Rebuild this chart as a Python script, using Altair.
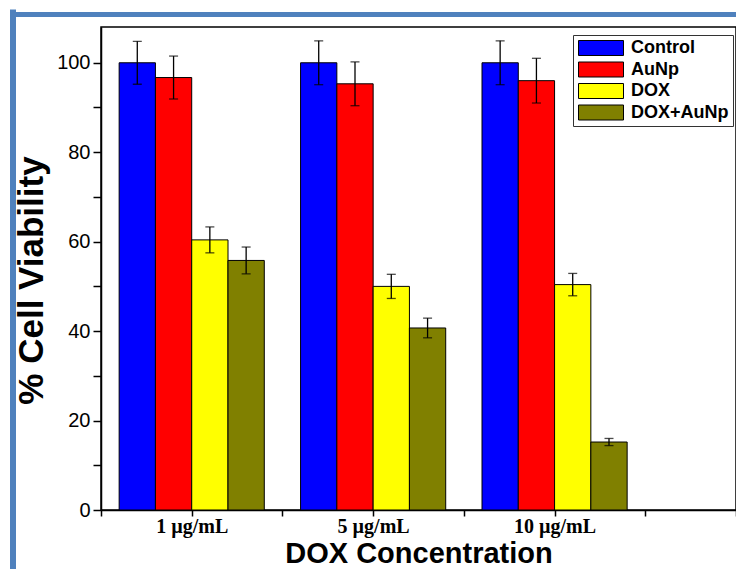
import altair as alt
import pandas as pd

# ---- data ----
concentrations = ["1 µg/mL", "5 µg/mL", "10 µg/mL"]
treatments = ["Control", "AuNp", "DOX", "DOX+AuNp"]
colors = ["#0000FF", "#FF0000", "#FFFF00", "#808000"]

control = [100.0, 100.0, 100.0]
control_err = [4.8, 4.9, 4.9]
aunp = [96.7, 95.3, 96.0]
aunp_err = [4.8, 4.9, 5.0]
dox = [60.4, 50.0, 50.4]
dox_err = [2.9, 2.7, 2.5]
dox_aunp = [55.8, 40.7, 15.2]
dox_aunp_err = [3.0, 2.2, 0.8]

values = [control, aunp, dox, dox_aunp]
errors = [control_err, aunp_err, dox_err, dox_aunp_err]

# ---- layout on a continuous x axis (groups at 1, 3, 5) ----
BAR_W = 0.4
rows = []
for gi, conc in enumerate(concentrations):
    center = 1 + 2 * gi
    for ti, t in enumerate(treatments):
        xc = center + (ti - 1.5) * BAR_W
        v = values[ti][gi]
        e = errors[ti][gi]
        rows.append({
            "conc": conc, "treatment": t, "value": v,
            "x0": xc - BAR_W / 2, "x1": xc + BAR_W / 2, "xc": xc,
            "lo": v - e, "hi": v + e,
        })
df = pd.DataFrame(rows)

label_expr = " : ".join(
    [f"datum.value == {1 + 2 * i} ? '{c}'" for i, c in enumerate(concentrations)]
) + " : ''"

W, H = 635, 483
PAD = {"left": 93, "top": 19, "right": 0, "bottom": 59}

xscale = alt.Scale(domain=[0, 7], nice=False)
yscale = alt.Scale(domain=[0, 108], nice=False)

x_axis = alt.Axis(
    values=list(range(0, 8)), labelExpr=label_expr, title="DOX Concentration",
    labelFont="Liberation Serif", labelFontWeight="bold", labelFontSize=20,
    labelColor="black", labelPadding=0, labelFlush=False, labelOverlap=False,
    titleFont="Liberation Sans", titleFontWeight="bold", titleFontSize=29,
    titleColor="black", titleBaseline="alphabetic", titleY=52, grid=False,
    tickSize=6,
)
y_axis = alt.Axis(
    values=list(range(0, 101, 10)),
    labelExpr="datum.value % 20 == 0 ? datum.value : ''",
    title="% Cell Viability",
    labelFont="Liberation Sans", labelFontSize=20, labelColor="black",
    labelPadding=3, labelFlush=False, labelOverlap=False,
    titleFont="Liberation Sans", titleFontWeight="bold", titleFontSize=35,
    titleColor="black", titlePadding=7, titleY=253, grid=False,
    tickSize=8,
)

base = alt.Chart(df)

bars = base.mark_bar(stroke="black", strokeWidth=1).encode(
    x=alt.X("x0:Q", scale=xscale, axis=x_axis),
    x2="x1:Q",
    y=alt.Y("value:Q", scale=yscale, axis=y_axis),
    y2=alt.datum(0),
    color=alt.Color(
        "treatment:N",
        scale=alt.Scale(domain=treatments, range=colors),
        legend=alt.Legend(
            title=None, orient="none", legendX=472, legendY=8, direction="vertical",
            symbolType="M-1,-1H5V1H-1Z", symbolSize=225,
            symbolStrokeColor="black", symbolStrokeWidth=1, symbolOpacity=1,
            labelFont="Liberation Sans", labelFontWeight="bold", labelFontSize=18,
            labelColor="black", labelOffset=36, rowPadding=1.5,
            strokeColor="#333333", padding=4, fillColor="white",
        ),
    ),
)

err_rule = base.mark_rule(color="black", strokeWidth=1.3).encode(
    x="xc:Q", y="lo:Q", y2="hi:Q"
)
cap_hi = base.mark_tick(color="black", orient="horizontal", size=9, thickness=1.3).encode(
    x="xc:Q", y="hi:Q"
)
cap_lo = base.mark_tick(color="black", orient="horizontal", size=9, thickness=1.3).encode(
    x="xc:Q", y="lo:Q"
)

frame_data = alt.Data(values=[{"f": 1}])
frame_left = alt.Chart(frame_data).mark_rule(color="#4F81BD", strokeWidth=6).encode(
    x=alt.value(-88), y=alt.value(-17.5), y2=alt.value(H + PAD["bottom"] + 10)
)
frame_top = alt.Chart(frame_data).mark_rule(color="#4F81BD", strokeWidth=5).encode(
    x=alt.value(-91), x2=alt.value(W + 10), y=alt.value(-12.5)
)

chart = alt.layer(bars, err_rule, cap_hi, cap_lo, frame_left, frame_top).properties(
    width=W, height=H, padding=PAD,
    autosize=alt.AutoSizeParams(type="none"),
    background="white",
).configure_view(
    stroke="black", strokeWidth=1.5
).configure_axis(
    domainColor="black", domainWidth=1.5, tickColor="black", tickWidth=1.5
)

chart.save("out.html", embed_options={"renderer": "svg", "actions": False})
